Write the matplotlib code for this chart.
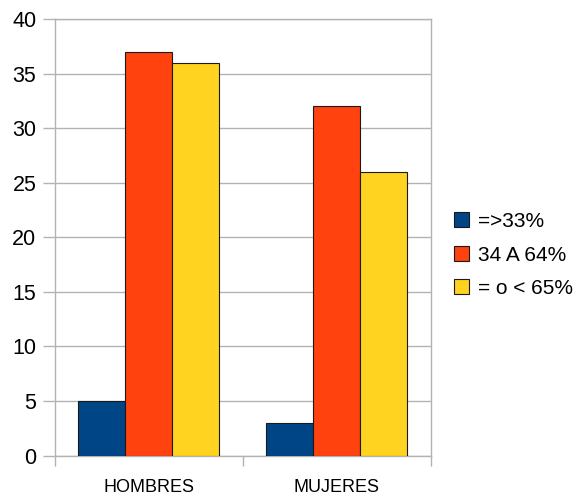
import matplotlib
matplotlib.use("Agg")
import matplotlib.pyplot as plt
import numpy as np

plt.rcParams['font.family'] = ['Liberation Sans', 'DejaVu Sans']

categories = ['HOMBRES', 'MUJERES']
series_names = ['=>33%', '34 A 64%', '= o < 65%']
series_values = [
    [5, 3],    # =>33%
    [37, 32],  # 34 A 64%
    [36, 26],  # = o < 65%
]
colors = ['#004586', '#ff420e', '#ffd320']
yticks = [0, 5, 10, 15, 20, 25, 30, 35, 40]

grid_col = '#b3b3b3'

fig = plt.figure(figsize=(5.78, 4.97), dpi=100)
ax = fig.add_axes([54.5 / 578, 1 - 455.5 / 497, (431 - 54.5) / 578, (455.5 - 19) / 497])

x = np.arange(len(categories))
w = 0.25
for i, (name, vals) in enumerate(zip(series_names, series_values)):
    ax.bar(x + (i - 1) * w, vals, w, color=colors[i], edgecolor='#1a1a1a',
           linewidth=0.8, label=name, zorder=3)

ax.set_xlim(-0.5, 1.5)
ax.set_ylim(0, 40)
ax.set_yticks(yticks)
ax.yaxis.grid(True, color=grid_col, linewidth=1, zorder=0)
for s in ax.spines.values():
    s.set_color(grid_col)
    s.set_linewidth(1)

ax.set_xticks(x)
ax.set_xticklabels(categories, fontsize=13)
ax.set_xticks([-0.5, 0.5, 1.5], minor=True)
ax.tick_params(axis='x', which='major', length=0, pad=17)
ax.tick_params(axis='x', which='minor', length=7.5, color=grid_col, width=1)
ax.tick_params(axis='y', length=8.5, color=grid_col, width=1, labelsize=15.5, pad=4.5)

fig.legend(loc='center left', bbox_to_anchor=(454 / 578, 1 - 255 / 497),
           frameon=False, fontsize=15, handlelength=0.72, handleheight=0.72,
           handletextpad=0.45, labelspacing=0.7, borderaxespad=0, borderpad=0)

fig.savefig('out.png', dpi=100)
